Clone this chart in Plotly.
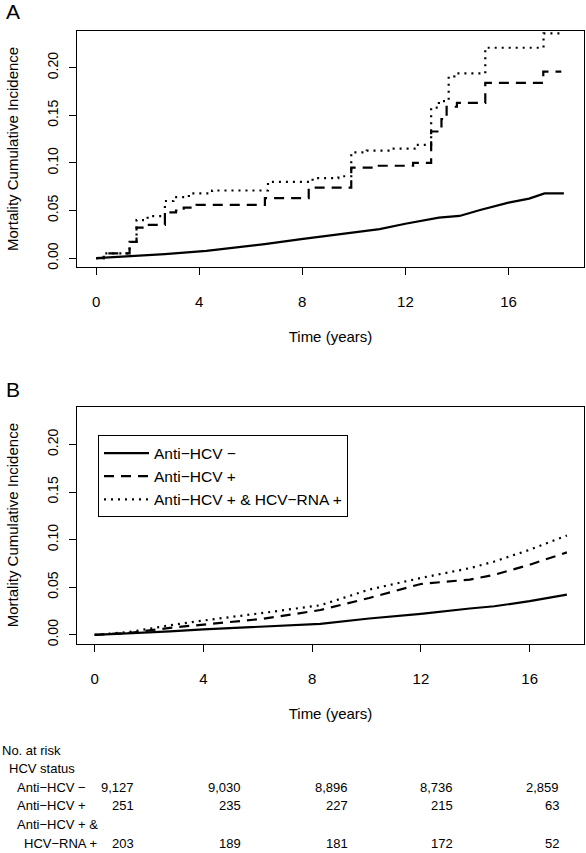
import plotly.graph_objects as go

# ---------------- data ----------------
series_names = ["Anti\u2212HCV \u2212", "Anti\u2212HCV +", "Anti\u2212HCV + & HCV\u2212RNA +"]

# Panel A (crude cumulative incidence)
a_neg_t = [0, 1, 2, 2.67, 4.28, 5.96, 6.54, 7.96, 9.45, 10.35, 11.0, 12.0, 13.3, 14.1, 14.9, 16.0, 16.8, 17.4, 18.15]
a_neg_v = [0, 0.0015, 0.003, 0.0042, 0.0077, 0.0127, 0.0147, 0.0199, 0.0251, 0.0286, 0.0304, 0.0361, 0.0426, 0.0443, 0.0506, 0.0583, 0.0625, 0.068, 0.068]

a_pos_t = [0, 0.3, 1.3, 1.57, 1.85, 2.67, 3.1, 3.4, 3.9, 6.55, 8.25, 9.9, 10.8, 12.3, 13.0, 13.4, 13.6, 14.0, 15.1, 17.35, 18.05]
a_pos_v = [0, 0.005, 0.017, 0.032, 0.035, 0.048, 0.050, 0.053, 0.056, 0.063, 0.074, 0.095, 0.097, 0.100, 0.133, 0.146, 0.159, 0.163, 0.184, 0.196, 0.196]

a_rna_t = [0, 0.3, 1.3, 1.57, 2.0, 2.67, 3.0, 3.6, 4.5, 6.67, 8.4, 9.4, 9.9, 10.5, 11.5, 12.4, 13.0, 13.3, 13.68, 13.9, 15.1, 17.36, 18.15]
a_rna_v = [0, 0.005, 0.017, 0.040, 0.044, 0.060, 0.064, 0.068, 0.071, 0.080, 0.084, 0.086, 0.111, 0.113, 0.115, 0.119, 0.158, 0.165, 0.191, 0.194, 0.221, 0.236, 0.236]

# Panel B (adjusted cumulative incidence)
b_t = [0, 1.3, 2.77, 4.0, 6.2, 8.3, 10.1, 12.0, 13.8, 14.7, 16.0, 17.37]
b_neg_v = [0, 0.0015, 0.0035, 0.0056, 0.0090, 0.0115, 0.0171, 0.0220, 0.0276, 0.0300, 0.0353, 0.0422]
b_pos_v = [0, 0.0020, 0.0073, 0.0108, 0.0168, 0.0260, 0.0387, 0.0534, 0.0580, 0.0630, 0.0736, 0.0866]
b_rna_v = [0, 0.0030, 0.0100, 0.0150, 0.0230, 0.0310, 0.0475, 0.0597, 0.0700, 0.0770, 0.0893, 0.1044]

x_ticks = [0, 4, 8, 12, 16]
y_ticks = [0.00, 0.05, 0.10, 0.15, 0.20]

# Number at risk table
risk_title = "No. at risk"
risk_group = "HCV status"
risk_labels = ["Anti\u2212HCV \u2212", "Anti\u2212HCV +", "Anti\u2212HCV + &", "HCV\u2212RNA +"]
risk_neg = ["9,127", "9,030", "8,896", "8,736", "2,859"]
risk_pos = ["251", "235", "227", "215", "63"]
risk_rna = ["203", "189", "181", "172", "52"]

# ---------------- layout helpers ----------------
W, H = 586, 853
FONT = "Liberation Sans, Arial, Helvetica, sans-serif"

def px_x(x):
    return x / W

def px_y(y):
    return 1 - y / H

dashes = ["solid", "10px,7px", "2px,5px"]
shapes_a = ["linear", "hv", "hv"]
lw = 2.2

fig = go.Figure()

a_sets = [(a_neg_t, a_neg_v), (a_pos_t, a_pos_v), (a_rna_t, a_rna_v)]
for i, (t, v) in enumerate(a_sets):
    fig.add_trace(go.Scatter(x=t, y=v, mode="lines",
                             line=dict(color="black", width=lw, dash=dashes[i], shape=shapes_a[i]),
                             name=series_names[i], showlegend=False, xaxis="x", yaxis="y"))

for i, v in enumerate([b_neg_v, b_pos_v, b_rna_v]):
    fig.add_trace(go.Scatter(x=b_t, y=v, mode="lines", line=dict(color="black", width=lw, dash=dashes[i]),
                             name=series_names[i], showlegend=True, xaxis="x2", yaxis="y2"))

axis_common = dict(showline=True, linecolor="black", linewidth=1, mirror=True, showgrid=False, zeroline=False,
                   ticks="outside", ticklen=7, tickcolor="black", tickwidth=1)

xa = dict(axis_common, tickvals=x_ticks, ticklabelstandoff=14,
          tickfont=dict(family=FONT, size=15, color="black"),
          title=dict(text="Time (years)", font=dict(family=FONT, size=15, color="black"), standoff=22))
ya = dict(axis_common, tickvals=y_ticks, tickformat=".2f", tickangle=-90, ticklabelstandoff=5,
          tickfont=dict(family=FONT, size=14, color="black"),
          title=dict(text="Mortality Cumulative Incidence", font=dict(family=FONT, size=15, color="black"), standoff=23))

fig.update_layout(
    width=W, height=H,
    margin=dict(l=0, r=0, t=0, b=0),
    paper_bgcolor="white", plot_bgcolor="white",
    xaxis=dict(xa, domain=[px_x(77), px_x(584)], range=[-0.74, 18.93], anchor="y"),
    yaxis=dict(ya, domain=[px_y(268), px_y(31)], range=[-0.0094, 0.2387], anchor="x"),
    xaxis2=dict(xa, domain=[px_x(77), px_x(584)], range=[-0.65, 18.0], anchor="y2"),
    yaxis2=dict(ya, domain=[px_y(646), px_y(408)], range=[-0.0094, 0.2398], anchor="x2"),
    legend=dict(x=px_x(98), y=px_y(437), xanchor="left", yanchor="top",
                bordercolor="black", borderwidth=1, bgcolor="white",
                font=dict(family=FONT, size=15.5, color="black"), itemwidth=45, tracegroupgap=0),
    showlegend=True,
)

ann = []
ann.append(dict(text="A", x=px_x(4), y=px_y(12), xanchor="left", yanchor="middle", showarrow=False,
                xref="paper", yref="paper", font=dict(family=FONT, size=21, color="black")))
ann.append(dict(text="B", x=px_x(4), y=px_y(391), xanchor="left", yanchor="middle", showarrow=False,
                xref="paper", yref="paper", font=dict(family=FONT, size=21, color="black")))

tf = dict(family=FONT, size=13, color="black")
def txt(s, x, y, anchor="left"):
    ann.append(dict(text=s, x=px_x(x), y=px_y(y), xanchor=anchor, yanchor="middle", showarrow=False,
                    xref="paper", yref="paper", font=tf))

row_y = [753, 771, 790, 808, 827, 846]
txt(risk_title, 0, row_y[0])
txt(risk_group, 7, row_y[1])
txt(risk_labels[0], 15, row_y[2])
txt(risk_labels[1], 15, row_y[3])
txt(risk_labels[2], 15, row_y[4])
txt(risk_labels[3], 22, row_y[5])
col_x = [136, 243, 349.5, 455, 561]
for j, cx in enumerate(col_x):
    txt(risk_neg[j], cx, row_y[2], "right")
    txt(risk_pos[j], cx, row_y[3], "right")
    txt(risk_rna[j], cx, row_y[5], "right")

fig.update_layout(annotations=ann)

fig.write_html("out.html", config={"displayModeBar": False},
               post_script="document.body.style.margin='0';document.body.style.overflow='hidden';")
